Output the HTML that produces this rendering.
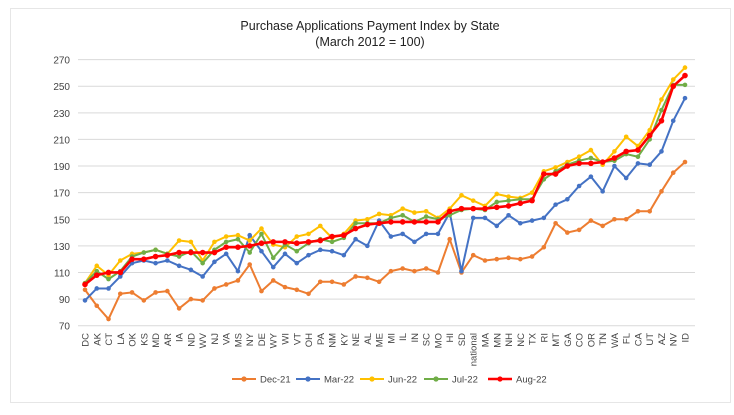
<!DOCTYPE html>
<html><head><meta charset="utf-8"><style>
body{margin:0;background:#fff;width:734px;height:410px;overflow:hidden}
svg{font-family:"Liberation Sans",sans-serif}
</style></head><body>
<svg id="c" width="734" height="410" xmlns="http://www.w3.org/2000/svg">
<rect x="0" y="0" width="734" height="410" fill="#fff"/>
<rect x="10.5" y="8.5" width="720" height="394" fill="none" stroke="#e6e6e6"/>
<text x="370" y="30" text-anchor="middle" font-size="12.5" fill="#222">Purchase Applications Payment Index by State</text>
<text x="370" y="46" text-anchor="middle" font-size="12.5" fill="#222">(March 2012 = 100)</text>
</svg>
<script>
const s=document.getElementById('c'),N='http://www.w3.org/2000/svg';
function el(t,a,txt){const e=document.createElementNS(N,t);for(const k in a)e.setAttribute(k,a[k]);if(txt!=null)e.textContent=txt;s.appendChild(e);return e;}
const labs="DC AK CT LA OK KS MD AR IA ND WV NJ VA MS NY DE WY WI VT OH PA NM KY NE AL ME MI IL IN SC MO HI SD national MA MN NH NC TX RI MT GA CO OR TN WA FL CA UT AZ NV ID".split(' ');
const X=i=>85+i*(600/51), Y=v=>325.7-(v-70)*1.3305;
for(let v=70;v<=270;v+=20){el('line',{x1:78,x2:695,y1:Y(v),y2:Y(v),stroke:'#d9d9d9','stroke-width':1});el('text',{x:70,y:Y(v)+4,'text-anchor':'end','font-size':10,fill:'#444'},v);}
labs.forEach((l,i)=>{el('text',{transform:`translate(${X(i)+3.5},333) rotate(-90)`,'text-anchor':'end','font-size':9.5,fill:'#444'},l);});
const D={
'Dec-21':['#ed7d31',[97,85,75,94,95,89,95,96,83,90,89,98,101,104,116,96,104,99,97,94,103,103,101,107,106,103,111,113,111,113,110,135,110,123,119,120,121,120,122,129,147,140,142,149,145,150,150,156,156,171,185,193]],
'Mar-22':['#4472c4',[89,98,98,107,117,119,117,119,115,112,107,118,124,111,138,126,114,124,117,123,127,126,123,135,130,149,137,139,133,139,139,155,111,151,151,145,153,147,149,151,161,165,175,182,171,190,181,192,191,201,224,241]],
'Jun-22':['#ffc000',[102,115,108,119,124,125,127,124,134,133,119,133,137,138,134,143,131,129,137,139,145,136,139,149,150,154,153,158,155,156,151,158,168,164,160,169,167,166,170,186,189,193,197,202,191,201,212,205,217,240,255,264]],
'Jul-22':['#70ad47',[102,111,105,111,122,125,127,124,122,126,117,127,133,135,125,139,121,131,126,132,135,133,136,147,147,147,151,153,148,152,150,153,157,158,157,163,164,165,165,180,186,191,194,196,193,194,199,197,210,232,251,251]],
'Aug-22':['#ff0000',[101,108,110,110,120,120,122,123,125,125,125,125,129,129,130,132,133,133,132,133,134,137,138,143,146,147,148,148,148,148,148,156,158,158,158,159,160,162,164,184,184,190,192,192,193,196,201,202,213,224,250,258]]};
let lx=232;
for(const k in D){const [c,d]=D[k];const w=k=='Aug-22'?2.6:2;
el('polyline',{points:d.map((v,i)=>X(i)+','+Y(v)).join(' '),fill:'none',stroke:c,'stroke-width':w,'stroke-linejoin':'round'});
d.forEach((v,i)=>el('circle',{cx:X(i),cy:Y(v),r:k=='Aug-22'?2.8:2.3,fill:c}));
el('line',{x1:lx,x2:lx+24,y1:379,y2:379,stroke:c,'stroke-width':w});el('circle',{cx:lx+12,cy:379,r:2.6,fill:c});
el('text',{x:lx+28,y:382.5,'font-size':9.5,fill:'#444'},k);lx+=64;}
</script>
</body></html>
